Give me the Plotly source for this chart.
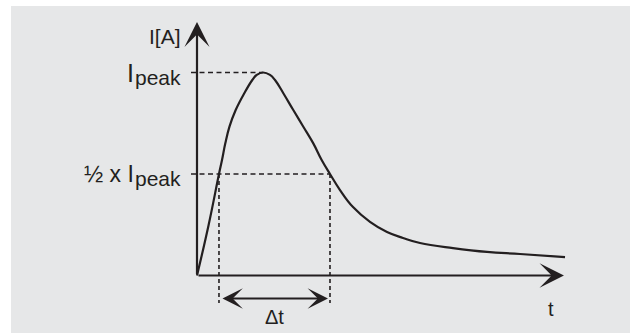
import plotly.graph_objects as go

# ---- data (t in units of t_peak, I in units of I_peak) ----
t_vals = [0, 0.176, 0.333, 0.379, 0.429, 0.492, 0.586, 0.717, 0.838, 0.905, 1.0,
          1.106, 1.182, 1.308, 1.459, 1.611, 1.762, 1.889, 2.015, 2.167, 2.364,
          2.621, 2.879, 3.121, 3.379, 3.879, 4.394, 4.894, 5.576]
i_vals = [0, 0.249, 0.5, 0.569, 0.651, 0.733, 0.815, 0.898, 0.963, 0.988, 1.0,
          0.988, 0.963, 0.898, 0.815, 0.733, 0.651, 0.569, 0.5, 0.421, 0.337,
          0.264, 0.214, 0.185, 0.160, 0.135, 0.116, 0.106, 0.091]
i_peak = 1.0
t_peak = 1.0
t_half_rise = 0.333
t_half_fall = 2.015
t_axis_end = 5.56
i_axis_end = 1.249

label_ia = "I[A]"
label_i = "I"
label_half_i = "½ x I"
label_sub = "peak"
label_dt = "Δt"
label_t = "t"

# ---- layout scale (pixels per unit) ----
W, H = 630, 333
OX, OY = 197, 275.5
SX, SY = 66.0, 203.0
x_range = [-OX / SX, (W - OX) / SX]
y_range = [-(H - OY) / SY, OY / SY]

INK = "#231f20"
FONT = "Liberation Sans, Arial, sans-serif"
half = i_peak / 2
dt_y = -23.0 / SY
dot_bottom = -27.5 / SY
dash_left = -6.0 / SX
sub_drop = 4.5 / SY
lab_right = -14 / SX
sub_width = 47 / SX

fig = go.Figure()
fig.add_trace(go.Scatter(x=t_vals, y=i_vals, mode="lines",
                         line=dict(color=INK, width=2.2, shape="spline", smoothing=1.2),
                         hoverinfo="skip"))

shapes = [
    dict(type="rect", xref="paper", yref="paper", x0=11 / W, x1=1, y0=0, y1=1 - 6 / H,
         fillcolor="#e6e7e8", line=dict(width=0), layer="below"),
    dict(type="line", x0=dash_left, x1=t_peak, y0=i_peak, y1=i_peak,
         line=dict(color=INK, width=1.6, dash="5px,3.5px")),
    dict(type="line", x0=dash_left, x1=t_half_fall, y0=half, y1=half,
         line=dict(color=INK, width=1.6, dash="5px,3.5px")),
    dict(type="line", x0=t_half_rise, x1=t_half_rise, y0=half, y1=dot_bottom,
         line=dict(color=INK, width=1.6, dash="4px,3px")),
    dict(type="line", x0=t_half_fall, x1=t_half_fall, y0=half, y1=dot_bottom,
         line=dict(color=INK, width=1.6, dash="4px,3px")),
]


def lab(x, y, text, size, xanchor="right"):
    return dict(x=x, y=y, text=text, showarrow=False, xanchor=xanchor,
                yanchor="middle", font=dict(family=FONT, size=size, color=INK))


ann = [
    # axes
    dict(x=t_axis_end, y=0, ax=0, ay=0, xref="x", yref="y", axref="x", ayref="y",
         text="", showarrow=True, arrowhead=3, arrowsize=1.85, arrowwidth=2.2, arrowcolor=INK),
    dict(x=0, y=i_axis_end, ax=0, ay=0, xref="x", yref="y", axref="x", ayref="y",
         text="", showarrow=True, arrowhead=3, arrowsize=1.9, arrowwidth=2.2, arrowcolor=INK),
    # delta t double arrow
    dict(x=t_half_fall, y=dt_y, ax=t_half_rise, ay=dt_y, xref="x", yref="y",
         axref="x", ayref="y", text="", showarrow=True, arrowside="end+start",
         arrowhead=3, startarrowhead=3, arrowsize=1.7, startarrowsize=1.7,
         arrowwidth=2, arrowcolor=INK, standoff=2, startstandoff=2),
    # labels
    lab(lab_right, (OY - 36) / SY, label_ia, 21),
    lab(lab_right - sub_width, i_peak, label_i, 25),
    lab(lab_right, i_peak - sub_drop, label_sub, 21),
    lab(lab_right - sub_width, half, label_half_i, 23),
    lab(lab_right, half - sub_drop, label_sub, 21),
    lab((t_half_rise + t_half_fall) / 2, -41.5 / SY, label_dt, 20, "center"),
    lab((551 - OX) / SX, -33.5 / SY, label_t, 20, "center"),
]

fig.update_layout(width=W, height=H, margin=dict(l=0, r=0, t=0, b=0),
                  paper_bgcolor="white", plot_bgcolor="rgba(0,0,0,0)",
                  showlegend=False, shapes=shapes, annotations=ann,
                  xaxis=dict(range=x_range, visible=False, fixedrange=True),
                  yaxis=dict(range=y_range, visible=False, fixedrange=True))
fig.write_html("out.html", config={"displayModeBar": False},
               post_script="document.body.style.margin='0px';document.body.style.overflow='hidden';")
